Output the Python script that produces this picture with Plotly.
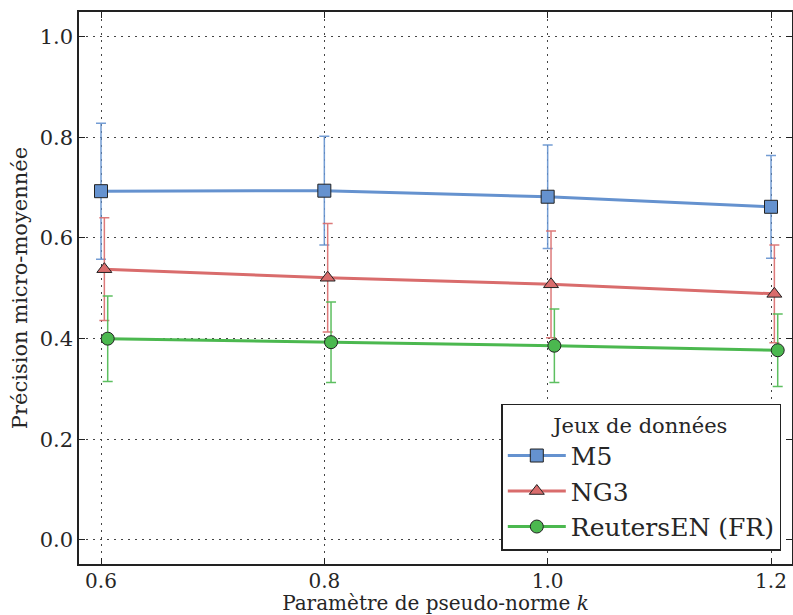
import plotly.graph_objects as go

# ---- data ----
k_values = [0.6, 0.8, 1.0, 1.2]
x_tick_labels = ["0.6", "0.8", "1.0", "1.2"]
y_tick_values = [0.0, 0.2, 0.4, 0.6, 0.8, 1.0]

m5_mean = [0.693, 0.694, 0.682, 0.662]
m5_err = [0.135, 0.108, 0.103, 0.102]

ng3_mean = [0.538, 0.521, 0.508, 0.489]
ng3_err = [0.102, 0.108, 0.106, 0.097]

reuters_mean = [0.400, 0.393, 0.386, 0.377]
reuters_err = [0.085, 0.080, 0.073, 0.072]

series_names = ["M5", "NG3", "ReutersEN (FR)"]
# small horizontal dodge of each series, as in the reference
dodges = [0.0, 0.003, 0.006]

colors = ["#6592CF", "#D96C6C", "#4BB84F"]
err_colors = ["rgba(101,146,207,0.9)", "rgba(217,108,108,0.9)", "rgba(75,184,79,0.9)"]
symbols = ["square", "triangle-up", "circle"]

FONT = "'DejaVu Serif', 'Liberation Serif', serif"
TXT = "#262626"

fig = go.Figure()
for name, mean, err, dodge, col, ecol, sym in zip(
    series_names,
    [m5_mean, ng3_mean, reuters_mean],
    [m5_err, ng3_err, reuters_err],
    dodges, colors, err_colors, symbols,
):
    fig.add_trace(go.Scatter(
        x=[v + dodge for v in k_values],
        y=mean,
        name=name,
        mode="lines+markers",
        line=dict(color=col, width=3),
        marker=dict(symbol=sym, size=13, color=col,
                    line=dict(color="#222222", width=1)),
        error_y=dict(type="data", array=err, symmetric=True,
                     color=ecol, thickness=1.5, width=5),
    ))

axis_common = dict(
    showline=True, linecolor="#222222", linewidth=1.5, mirror="allticks",
    ticks="inside", ticklen=6, tickwidth=1, tickcolor="#222222",
    showgrid=True, gridcolor="#444444", gridwidth=1, griddash="2px,5px",
    zeroline=False, automargin=False,
)

fig.update_layout(
    width=793, height=615,
    margin=dict(l=79, r=1, t=12, b=51),
    paper_bgcolor="white", plot_bgcolor="white",
    font=dict(family=FONT, color=TXT),
    xaxis=dict(
        range=[0.5803, 1.2188],
        tickvals=k_values, ticktext=x_tick_labels,
        tickfont=dict(family=FONT, size=20, color=TXT),
        ticklabelstandoff=-2,
        title=dict(text="Paramètre de pseudo-norme <i>k</i>",
                   font=dict(family=FONT, size=20, color=TXT), standoff=2),
        **axis_common,
    ),
    yaxis=dict(
        range=[-0.0477, 1.049],
        tickvals=y_tick_values, tickformat=".1f",
        tickfont=dict(family=FONT, size=21, color=TXT),
        title=dict(text="Précision micro-moyennée",
                   font=dict(family=FONT, size=21, color=TXT), standoff=6),
        **axis_common,
    ),
    legend=dict(
        x=0.985, y=0.0236, xanchor="right", yanchor="bottom",
        bgcolor="white", bordercolor="#222222", borderwidth=1.5,
        font=dict(family=FONT, size=25, color=TXT),
        title=dict(text="Jeux de données", side="top center",
                   font=dict(family=FONT, size=21, color=TXT)),
        itemwidth=58,
    ),
    showlegend=True,
)

fig.write_html(
    "out.html",
    config={"displayModeBar": False},
    post_script="document.body.style.margin='0';document.body.style.padding='0';",
)
